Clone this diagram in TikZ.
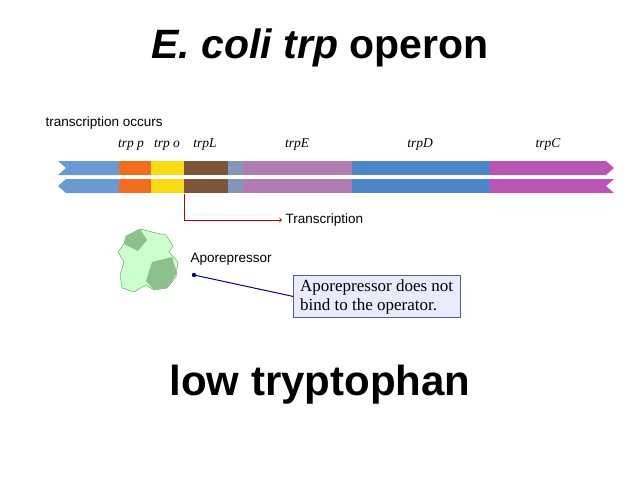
\documentclass[tikz,border=0pt]{standalone}
\usepackage{fontspec}
\setmainfont{Liberation Sans}
\newfontfamily\serifx{Liberation Serif}
\definecolor{cA}{RGB}{105,155,210}
\definecolor{cOr}{RGB}{240,110,30}
\definecolor{cYe}{RGB}{250,220,20}
\definecolor{cBr}{RGB}{125,85,55}
\definecolor{cGb}{RGB}{130,150,185}
\definecolor{cE}{RGB}{175,125,175}
\definecolor{cD}{RGB}{75,135,200}
\definecolor{cC}{RGB}{185,85,180}
\begin{document}
\begin{tikzpicture}[x=1pt,y=-1pt,
  lab/.style={font=\serifx\itshape\fontsize{13.5}{15}\selectfont, anchor=base},
  sans/.style={font=\fontsize{13.5}{15}\selectfont}]
\useasboundingbox (0,0) rectangle (640,480);
\node (title) at (320,48) {\fontsize{41}{48}\selectfont\bfseries\itshape E. coli trp\upshape\ operon};
\node (low) at (320,385) {\fontsize{42}{50}\selectfont\bfseries low tryptophan};
\node[anchor=west,sans] (occ) at (42,123) {transcription occurs};
\foreach \t/\x in {trp p/131,trp o/167,trpL/205,trpE/297,trpD/420,trpC/548}
  \node[lab] at (\x,147) {\t};
% top strand
\fill[cA] (58,161) -- (119,161) -- (119,175) -- (58,175) -- (66,168) -- cycle;
\fill[cOr] (119,161) rectangle (151,175);
\fill[cYe] (151,161) rectangle (184,175);
\fill[cBr] (184,161) rectangle (228,175);
\fill[cGb] (228,161) rectangle (243,175);
\fill[cE] (243,161) rectangle (352,175);
\fill[cD] (352,161) rectangle (490,175);
\fill[cC] (490,161) -- (606,161) -- (614,168) -- (606,175) -- (490,175) -- cycle;
% bottom strand
\fill[cA] (66,179) -- (119,179) -- (119,193) -- (66,193) -- (58,186) -- cycle;
\fill[cOr] (119,179) rectangle (151,193);
\fill[cYe] (151,179) rectangle (184,193);
\fill[cBr] (184,179) rectangle (228,193);
\fill[cGb] (228,179) rectangle (243,193);
\fill[cE] (243,179) rectangle (352,193);
\fill[cD] (352,179) rectangle (490,193);
\fill[cC] (490,179) -- (614,179) -- (606,186) -- (614,193) -- (490,193) -- cycle;
% transcription arrow
\coordinate (ts) at (184,194);
\node[anchor=west,sans] (tr) at (282,220) {Transcription};
\draw[red!75!black,line width=0.9pt,->] (ts) |- (tr.west);
% aporepressor blob
\draw[green!45!black!70,fill=green!20!white] (126,236) -- (140,229) -- (152,232) -- (166,235) -- (173,246) -- (169,252) -- (178,262) -- (176,277) -- (167,288) -- (154,290) -- (146,285) -- (134,292) -- (122,288) -- (120,275) -- (124,262) -- (118,252) -- (124,244) -- cycle;
\fill[green!45!black!45] (126,236) -- (140,229) -- (147,240) -- (138,251) -- (124,244) -- cycle;
\fill[green!45!black!45] (152,262) -- (172,257) -- (177,273) -- (167,288) -- (154,290) -- (146,281) -- cycle;
\node[anchor=west,sans] (apo) at (187,259) {Aporepressor};
\node[draw=gray!70!blue,fill=blue!8,align=left,anchor=north west,inner xsep=7pt,inner ysep=4pt,
  font=\serifx\fontsize{17}{19}\selectfont] (box) at (293,275) {Aporepressor does not\\bind to the operator.};
\coordinate (dot) at (194,275);
\fill[blue!55!black] (dot) circle (2.2);
\draw[blue!55!black,line width=1pt] (dot) -- (box.west);
\end{tikzpicture}
\end{document}
